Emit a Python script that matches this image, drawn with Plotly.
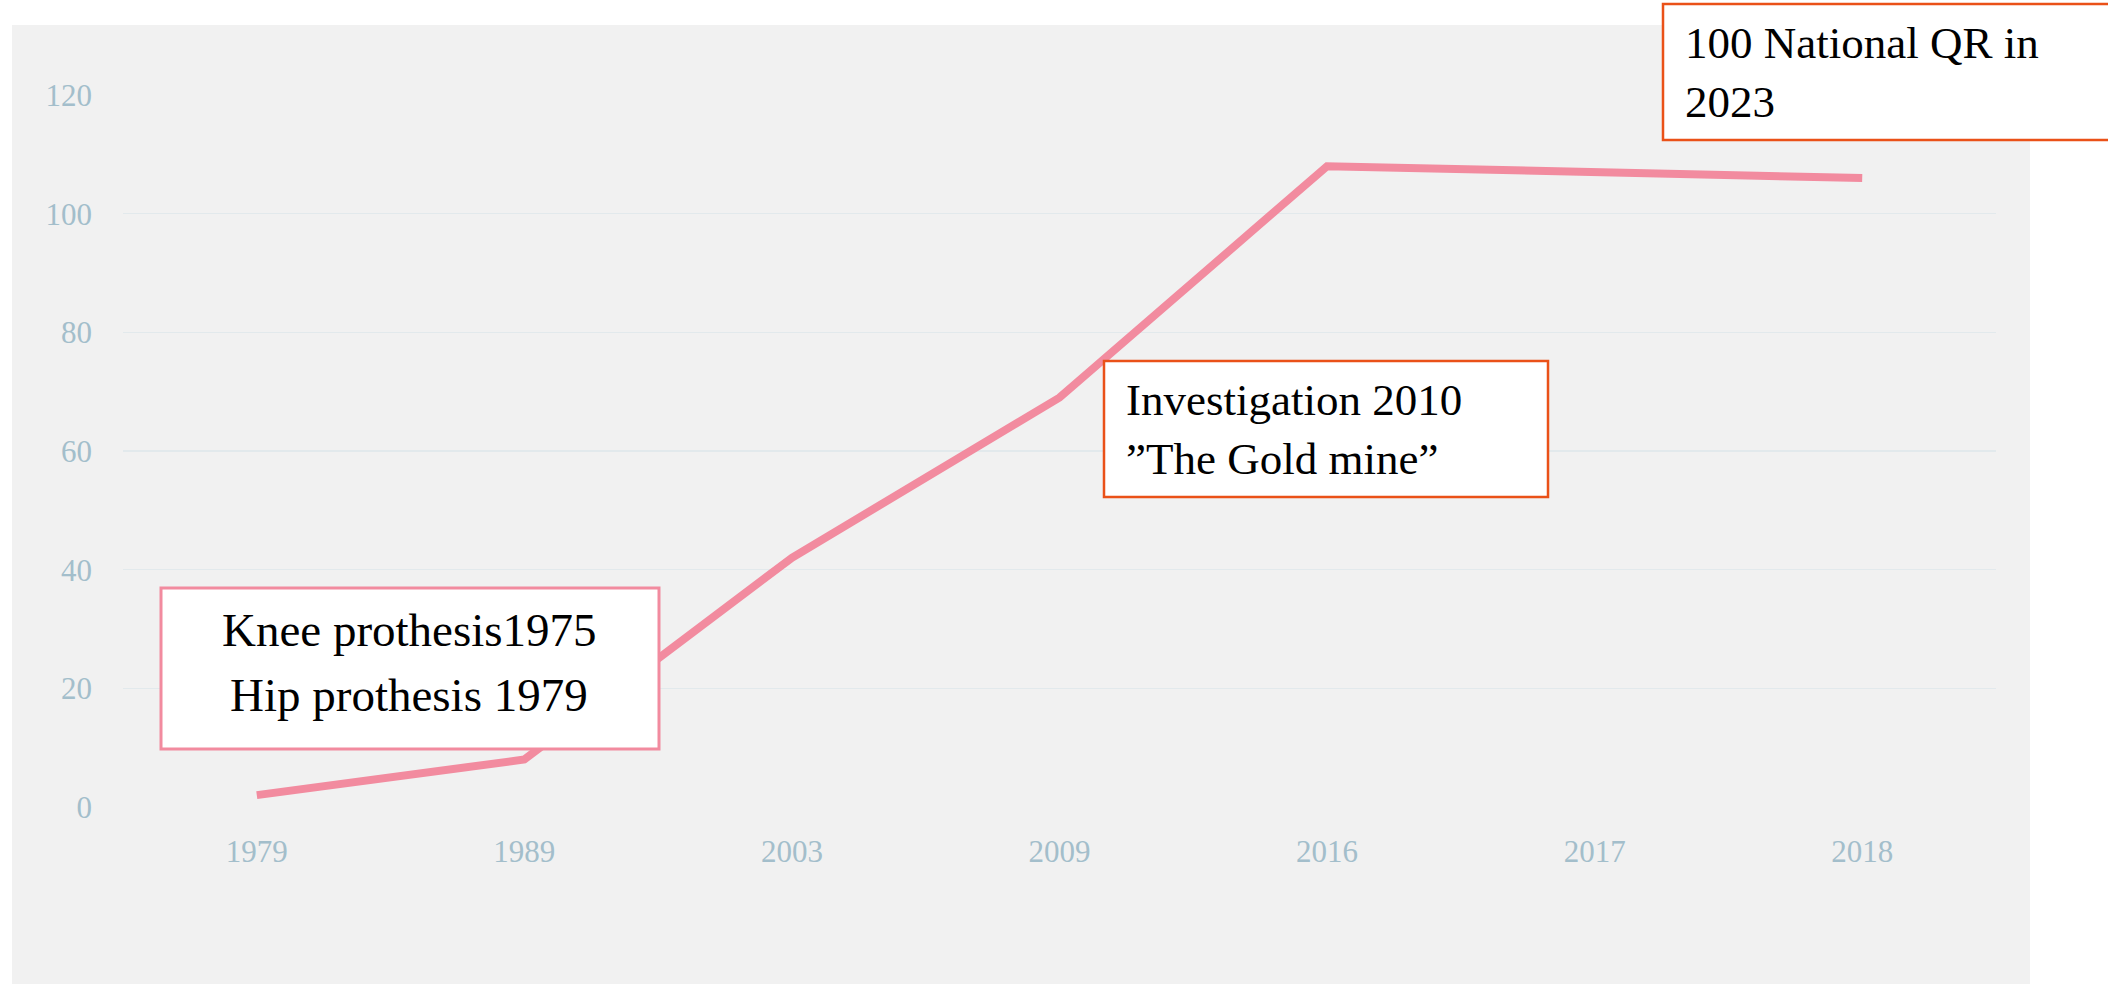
import plotly.graph_objects as go

# ---- data ----
years = ["1979", "1989", "2003", "2009", "2016", "2017", "2018"]
registries = [2, 8, 42, 69, 108, 107, 106]
y_ticks = [0, 20, 40, 60, 80, 100, 120]

knee_lines = ["Knee prothesis1975", "Hip prothesis 1979"]
note_invest = "Investigation 2010<br>\u201dThe Gold mine\u201d"
note_qr = "100 National QR in<br>2023"

# ---- geometry in screen pixels (page margin removed below) ----
W, H = 2108, 984
PL, PR, PT, PB = 123, 1996, 95, 807          # plot area
L, R, T, B = PL, W - PR, PT, H - PB
PW, PH = PR - PL, PB - PT


def px(sx):
    return (sx - PL) / PW


def py(sy):
    return (PB - sy) / PH


LINE = "#F28B9F"
ORANGE = "#EA5118"
TICK = "#A3BECB"
GRID = "#E2E9EC"
BG = "#F1F1F1"
SERIF = "Liberation Serif, Times New Roman, serif"

fig = go.Figure()
fig.add_trace(go.Scatter(
    x=years, y=registries, mode="lines",
    line=dict(color=LINE, width=8),
    hoverinfo="skip", showlegend=False,
))


def box(x0, y0, x1, y1, color, lw):
    return dict(type="rect", xref="paper", yref="paper", layer="above",
                x0=px(x0), x1=px(x1), y0=py(y1), y1=py(y0),
                fillcolor="white", line=dict(color=color, width=lw))


fig.update_layout(
    width=W, height=H,
    margin=dict(l=L, r=R, t=T, b=B, autoexpand=False),
    paper_bgcolor="white",
    plot_bgcolor=BG,
    xaxis=dict(
        type="category", range=[-0.5, 6.5],
        showgrid=False, zeroline=False, showline=False,
        tickfont=dict(family=SERIF, size=31, color=TICK),
        ticks="", ticklabelstandoff=23,
    ),
    yaxis=dict(
        range=[0, 120], tickvals=y_ticks,
        showgrid=True, gridcolor=GRID, gridwidth=1.5,
        zeroline=False, showline=False,
        tickfont=dict(family=SERIF, size=31, color=TICK),
        ticks="", ticklabelstandoff=30,
    ),
    shapes=[
        dict(type="rect", xref="paper", yref="paper", layer="below",
             x0=px(12), x1=px(2030), y0=py(990), y1=py(25),
             fillcolor=BG, line=dict(width=0)),
        box(161, 588, 659, 749, LINE, 3),
        box(1104, 361, 1548, 497, ORANGE, 2.5),
        box(1663, 4, 2140, 140, ORANGE, 2.5),
    ],
)

# text of the boxes
knee_y = [651, 716]  # baselines
for line_txt, base in zip(knee_lines, knee_y):
    fig.add_annotation(
        xref="paper", yref="paper", x=px(409), y=py(base - 21),
        xanchor="center", yanchor="middle", showarrow=False,
        text=line_txt, font=dict(family=SERIF, size=47, color="black"),
    )

fig.add_annotation(
    xref="paper", yref="paper", x=px(1124), y=py(429),
    xanchor="left", yanchor="middle", showarrow=False, align="left",
    text=note_invest, font=dict(family=SERIF, size=45, color="black"),
)
fig.add_annotation(
    xref="paper", yref="paper", x=px(1683), y=py(73),
    xanchor="left", yanchor="middle", showarrow=False, align="left",
    text=note_qr, font=dict(family=SERIF, size=45, color="black"),
)

fig.write_html(
    "out.html",
    config={"displayModeBar": False, "staticPlot": True},
    post_script=(
        "document.body.style.margin='0';"
        "document.body.style.overflow='hidden';"
        "document.documentElement.style.overflow='hidden';"
    ),
)
